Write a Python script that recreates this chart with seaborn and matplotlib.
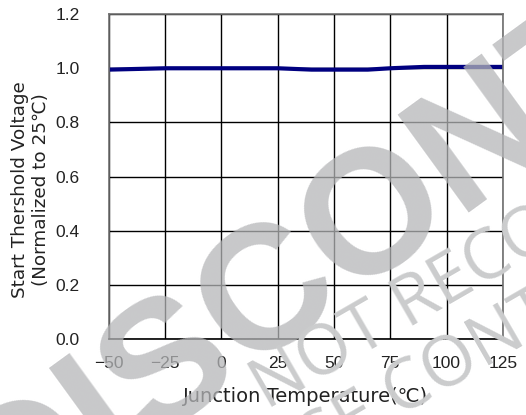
import matplotlib
matplotlib.use("Agg")
import matplotlib.pyplot as plt
import seaborn as sns
import pandas as pd

# values
temp_c = [-50, -25, 0, 25, 40, 50, 65, 75, 90, 100, 125]
vth_norm = [0.995, 1.0, 1.0, 1.0, 0.995, 0.995, 0.995, 1.0, 1.005, 1.005, 1.005]

x_ticks = [-50, -25, 0, 25, 50, 75, 100, 125]
y_ticks = [0.0, 0.2, 0.4, 0.6, 0.8, 1.0, 1.2]

df = pd.DataFrame({"temp": temp_c, "vth": vth_norm})

sns.set_style("white")
plt.rcParams["font.family"] = ["Liberation Sans", "DejaVu Sans"]

fig = plt.figure(figsize=(5.26, 4.15), dpi=100)
ax = fig.add_axes([0.207, 0.183, 0.749, 0.783])

sns.lineplot(data=df, x="temp", y="vth", ax=ax, color="#000080", linewidth=3)

ax.set_xlim(-50, 125)
ax.set_ylim(0, 1.2)
ax.set_xticks(x_ticks)
ax.set_yticks(y_ticks)
ax.set_xticklabels([str(t).replace("-", "\u2212") for t in x_ticks])
ax.set_yticklabels([f"{v:.1f}" for v in y_ticks])
ax.grid(True, color="black", linewidth=1)
ax.tick_params(length=0, labelsize=12.5, colors="#222222")
ax.tick_params(axis="y", pad=21)
ax.tick_params(axis="x", pad=12)
for s in ax.spines.values():
    s.set_color("#707070")
    s.set_linewidth(1.2)
ax.spines["bottom"].set_color("black")

ax.set_xlabel("Junction Temperature(\u2103)", fontsize=14, color="#222222",
              family="DejaVu Sans", labelpad=12)
ax.set_ylabel("Start Thershold Voltage\n(Normalized to 25\u2103)", fontsize=13.2,
              color="#222222", family="DejaVu Sans", linespacing=1.2)
ax.yaxis.set_label_coords(-0.15, 0.46)

# watermark
fig.text(0.011, -0.301, "DISCONTINUED", fontsize=127, fontweight="bold",
         family="Liberation Sans", color="#b5b6b8", alpha=0.75, rotation=36,
         rotation_mode="anchor", ha="left", va="baseline", zorder=10)
fig.text(0.507, 0.011, "NOT RECOMMENDED FOR NEW DESIGN", fontsize=50,
         family="Open Sans", fontweight="normal", color="#cbcccd", rotation=30,
         rotation_mode="anchor", ha="left", va="baseline", zorder=10)
fig.text(0.337, -0.315, "PLEASE CONTACT SALES", fontsize=50,
         family="Open Sans", fontweight="normal", color="#cbcccd", rotation=30,
         rotation_mode="anchor", ha="left", va="baseline", zorder=10)

fig.savefig("out.png", dpi=100)
